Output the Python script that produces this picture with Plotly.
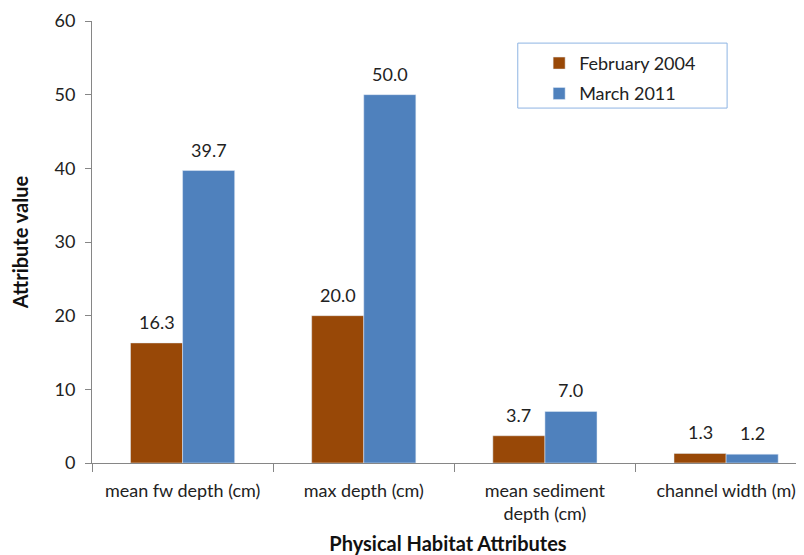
import plotly.graph_objects as go

categories = ["mean fw depth (cm)", "max depth (cm)", "mean sediment<br>depth (cm)", "channel width (m)"]
feb2004 = [16.3, 20.0, 3.7, 1.3]
mar2011 = [39.7, 50.0, 7.0, 1.2]
series_names = ["February 2004", "March 2011"]
y_ticks = [0, 10, 20, 30, 40, 50, 60]

FONT = "Lato, 'Open Sans', sans-serif"
fig = go.Figure()
fig.add_trace(go.Bar(x=categories, y=feb2004, name=series_names[0], marker_color="#984807",
                     legendgroup="a"))
fig.add_trace(go.Bar(x=categories, y=mar2011, name=series_names[1], marker_color="#4f81bd",
                     legendgroup="b"))

# data labels above bars
for vals, shift in ((feb2004, -26), (mar2011, 26)):
    for c, v in zip(categories, vals):
        fig.add_annotation(x=c, y=v, text=f"{v:.1f}", showarrow=False, xshift=shift,
                           yshift=21, font=dict(size=18, color="#222"))

# legend frame
fig.add_shape(type="rect", xref="paper", yref="paper", x0=0.598, x1=0.892, y0=0.803, y1=0.950,
              line=dict(color="#8eb4e3", width=1), fillcolor="rgba(0,0,0,0)", layer="above")

# page body has an 8px default margin; size the figure to fit the window
fig.update_layout(
    width=796, height=547,
    margin=dict(l=84, r=0, t=13, b=92),
    paper_bgcolor="white", plot_bgcolor="white",
    font=dict(family=FONT, size=18, color="#222"),
    barmode="group", bargap=0.425, bargroupgap=0,
    showlegend=True,
    legend=dict(x=0.628, y=0.946, xanchor="left", yanchor="top",
                borderwidth=0, bgcolor="rgba(0,0,0,0)",
                font=dict(size=18, color="#222"), tracegroupgap=4,
                itemwidth=30),
    xaxis=dict(range=[-0.5, 3.43], showline=True, linecolor="#868686", linewidth=1,
               ticks="outside", tickson="boundaries", ticklen=8, tickcolor="#868686",
               showgrid=False, tickfont=dict(size=18, color="#222"), automargin=False,
               ticklabelstandoff=11,
               title=dict(text="<b>Physical Habitat Attributes</b>", font=dict(size=20, color="#111"), standoff=14)),
    yaxis=dict(range=[0, 60], tickvals=y_ticks, showline=True, linecolor="#868686", linewidth=1,
               ticks="outside", ticklen=6, tickcolor="#868686", showgrid=False, zeroline=False,
               tickfont=dict(size=18, color="#222"), automargin=False, ticklabeloverflow="allow",
               ticklabelstandoff=6,
               title=dict(text="<b>Attribute value</b>", font=dict(size=20, color="#111"), standoff=24)),
)

fig.write_html("out.html")
